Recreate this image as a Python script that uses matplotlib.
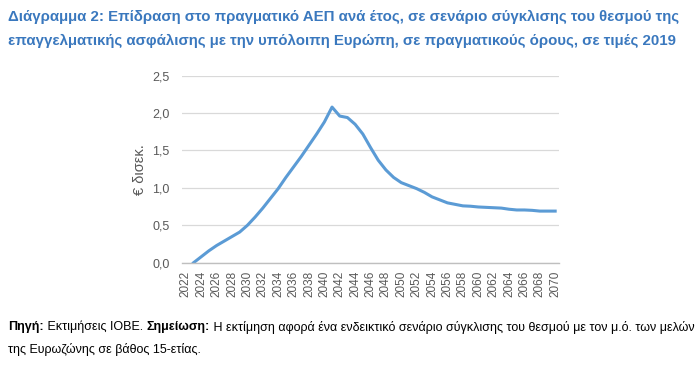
import numpy as np
import matplotlib
matplotlib.use("Agg")
import matplotlib.pyplot as plt

plt.rcParams["font.family"] = ["Liberation Sans", "DejaVu Sans"]

years = list(range(2022, 2071))
impact = [
    np.nan, 0.00, 0.08, 0.16, 0.23, 0.29, 0.35, 0.41, 0.50, 0.61,
    0.73, 0.86, 0.99, 1.14, 1.28, 1.42, 1.57, 1.72, 1.88, 2.08,
    1.96, 1.94, 1.85, 1.72, 1.54, 1.37, 1.24, 1.14, 1.07, 1.03,
    0.99, 0.94, 0.88, 0.84, 0.80, 0.78, 0.76, 0.755, 0.745, 0.74,
    0.735, 0.73, 0.715, 0.705, 0.705, 0.70, 0.69, 0.69, 0.69,
]
y_ticks = [0.0, 0.5, 1.0, 1.5, 2.0, 2.5]
y_label = "€ δισεκ."
title_lines = [
    "Διάγραμμα 2: Επίδραση στο πραγματικό ΑΕΠ ανά έτος, σε σενάριο σύγκλισης του θεσμού της",
    "επαγγελματικής ασφάλισης με την υπόλοιπη Ευρώπη, σε πραγματικούς όρους, σε τιμές 2019",
]
note_line1 = [("Πηγή:", True), (" Εκτιμήσεις ΙΟΒΕ. ", False), ("Σημείωση:", True),
              (" Η εκτίμηση αφορά ένα ενδεικτικό σενάριο σύγκλισης του θεσμού με τον μ.ό. των μελών", False)]
note_line2 = "της Ευρωζώνης σε βάθος 15-ετίας."

LINE_COLOR = "#5B9BD5"
TITLE_COLOR = "#3A78BE"
GREY = "#595959"

fig = plt.figure(figsize=(7.0, 3.69), dpi=100)
ax = fig.add_axes([0.26, 0.288, 0.5386, 0.507])

ax.plot(years, impact, color=LINE_COLOR, linewidth=2.2, solid_joinstyle="round")
ax.set_xlim(2021.5, 2070.5)
ax.set_ylim(0, 2.5)
ax.set_yticks(y_ticks)
ax.set_yticklabels([f"{v:.1f}".replace(".", ",") for v in y_ticks])
ax.set_xticks(years[::2])
ax.set_xticklabels([str(y) for y in years[::2]], rotation=90)
ax.tick_params(axis="x", length=0, labelsize=8.5, colors=GREY, pad=6)
ax.tick_params(axis="y", length=0, labelsize=9, colors=GREY, pad=9)
ax.grid(axis="y", color="#D9D9D9", linewidth=0.9)
ax.set_axisbelow(True)
for side in ["top", "right", "left"]:
    ax.spines[side].set_visible(False)
ax.spines["bottom"].set_color("#BFBFBF")
ax.spines["bottom"].set_linewidth(1.0)
ax.set_ylabel(y_label, fontsize=10.5, color=GREY, labelpad=4)

for i, line in enumerate(title_lines):
    fig.text(8 / 700, 1 - (17 + 24 * i) / 369, line, fontsize=10.8, weight="bold",
             color=TITLE_COLOR, va="center", ha="left")

renderer = fig.canvas.get_renderer()
x = 8 / 700
for txt, bold in note_line1:
    t = fig.text(x, 1 - 327 / 369, txt, fontsize=9.0, weight="bold" if bold else "normal",
                 color="black", va="center", ha="left")
    bb = t.get_window_extent(renderer=renderer)
    x += bb.width / fig.bbox.width
fig.text(8 / 700, 1 - 349 / 369, note_line2, fontsize=9.0, color="black", va="center", ha="left")

fig.savefig("out.png", dpi=100)
